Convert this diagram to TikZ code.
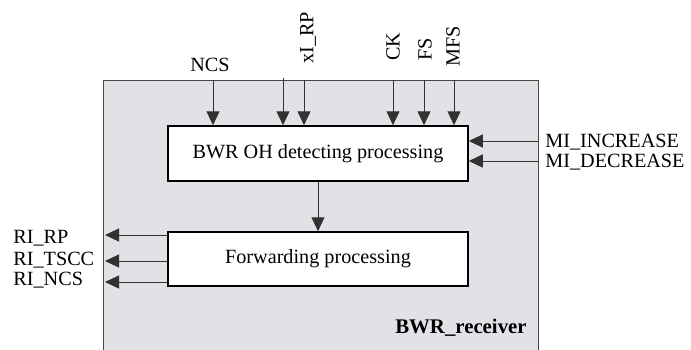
\documentclass[tikz,border=0pt]{standalone}
\usepackage{fontspec}
\setmainfont{Liberation Serif}
\usetikzlibrary{arrows.meta}
\definecolor{bgfill}{RGB}{225,226,229}
\definecolor{edgegray}{RGB}{70,70,70}
\definecolor{linegray}{RGB}{50,50,50}
\begin{document}
\begin{tikzpicture}[x=0.5pt,y=-0.5pt,
  every node/.style={font=\fontsize{10.1}{12}\selectfont, inner sep=0pt},
  procbox/.style={draw=black, line width=0.75pt, fill=white, minimum width=150pt},
  arr/.style={draw=linegray, line width=0.5pt, -{Triangle[length=7pt,width=6.5pt]}},
  lbl/.style={anchor=center},
  vlbl/.style={rotate=90, anchor=west}]
\useasboundingbox (0,0) rectangle (691,349);
% outer receiver block
\fill[bgfill] (103,80) rectangle (538,352);
\draw[edgegray, line width=0.5pt] (103,352) -- (103,80) -- (538,80) -- (538,352);
\node[font=\fontsize{10.4}{12}\selectfont\bfseries, anchor=east] (recv) at (527,328) {BWR\_receiver};
% processing blocks
\node[procbox, minimum height=27.5pt] (det) at (318,153.5) {BWR OH detecting processing};
\node[procbox, minimum height=27pt] (fwd) at (318,259) {Forwarding processing};
\draw[arr] (det.south) -- (fwd.north);
% top inputs
\coordinate (i1) at (213,80);
\coordinate (i2) at (283,78);
\coordinate (i3) at (304,80);
\coordinate (i4) at (393,80);
\coordinate (i5) at (424,80);
\coordinate (i6) at (454,80);
\foreach \c in {i1,i2,i3,i4,i5,i6} \draw[arr] (\c) -- (\c |- det.north);
\node[lbl] (ncs) at (210,64.5) {NCS};
\node[vlbl] (xirp) at (308,64) {xI\_RP};
\node[vlbl] (ck) at (393,61) {CK};
\node[vlbl] (fs) at (425,61) {FS};
\node[vlbl] (mfs) at (453,67) {MFS};
% right inputs
\coordinate (m1) at (538,141);
\coordinate (m2) at (538,161);
\draw[arr] (m1) -- (m1 -| det.east);
\draw[arr] (m2) -- (m2 -| det.east);
\node[anchor=west] (minc) at (545,142) {MI\_INCREASE};
\node[anchor=west] (mdec) at (545,162) {MI\_DECREASE};
% left outputs
\coordinate (o1) at (105,235);
\coordinate (o2) at (105,261);
\coordinate (o3) at (105,282);
\draw[arr] (o1 -| fwd.west) -- (o1);
\draw[arr] (o2 -| fwd.west) -- (o2);
\draw[arr] (o3 -| fwd.west) -- (o3);
\node[anchor=west] (rirp) at (13,238.5) {RI\_RP};
\node[anchor=west] (ritscc) at (13,260) {RI\_TSCC};
\node[anchor=west] (rincs) at (13,280) {RI\_NCS};
\end{tikzpicture}
\end{document}
